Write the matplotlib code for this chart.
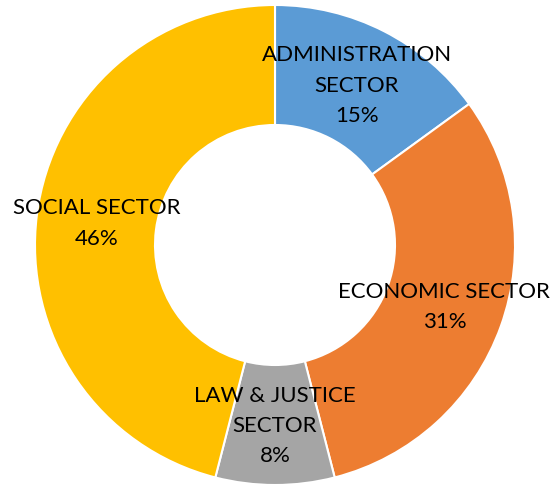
import numpy as np
import matplotlib.pyplot as plt

sectors = ["ADMINISTRATION\nSECTOR", "ECONOMIC SECTOR", "LAW & JUSTICE\nSECTOR", "SOCIAL SECTOR"]
shares = [15, 31, 8, 46]
colors = ["#5B9BD5", "#ED7D31", "#A5A5A5", "#FFC000"]

plt.rcParams['font.family'] = ['Lato', 'DejaVu Sans']

fig = plt.figure(figsize=(5.54, 4.89), dpi=100)
ax = fig.add_axes([0, 0, 1, 1])

wedges, _ = ax.pie(shares, colors=colors, startangle=90, counterclock=False,
                   radius=1.0, wedgeprops=dict(width=0.5, edgecolor="white", linewidth=1.5))

# labels centred in each ring segment
for w, name, pct in zip(wedges, sectors, shares):
    mid = np.deg2rad((w.theta1 + w.theta2) / 2)
    ax.text(0.75 * np.cos(mid), 0.75 * np.sin(mid), f"{name}\n{pct}%",
            ha="center", va="center", fontsize=16, color="#000000", linespacing=1.65)

ax.set_xlim(-275 / 240, 279 / 240)
ax.set_ylim(-243 / 240, 246 / 240)
ax.set_aspect("equal")
ax.axis("off")

fig.savefig("out.png", dpi=100)
